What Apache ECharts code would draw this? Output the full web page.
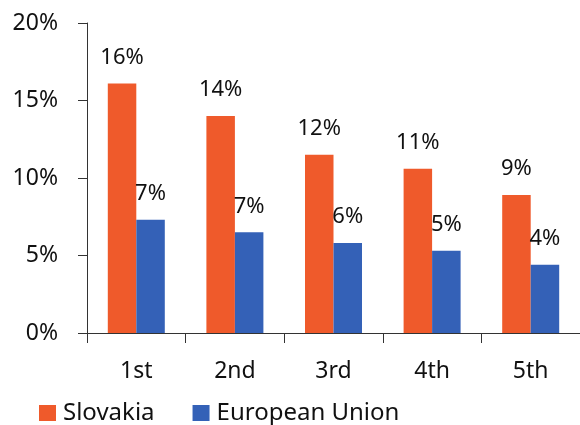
<!DOCTYPE html>
<html><head><meta charset="utf-8">
<script src="https://cdn.jsdelivr.net/npm/echarts@6/dist/echarts.min.js"></script>
<style>html,body{margin:0;padding:0;background:#fff}#c{width:580px;height:425px}</style>
</head><body><div id="c"></div>
<script>
const categories = ['1st', '2nd', '3rd', '4th', '5th'];
const slovakia = [16.1, 14.0, 11.5, 10.6, 8.9];
const eu = [7.3, 6.5, 5.8, 5.3, 4.4];
const yTicks = [0, 5, 10, 15, 20];

const FONT = 'Noto Sans';
const chart = echarts.init(document.getElementById('c'), null, {renderer: 'canvas'});
const lbl = {show: true, position: 'top', distance: 15, color: '#111', fontFamily: FONT, fontSize: 22,
  formatter: p => Math.round(p.value) + '%'};
chart.setOption({
  animation: false,
  textStyle: {fontFamily: FONT},
  grid: {left: 87, top: 23, right: -3, bottom: 92, containLabel: false},
  legend: {
    top: 396, left: 34, itemWidth: 17, itemHeight: 16, itemGap: 38,
    icon: 'rect',
    textStyle: {fontFamily: FONT, fontSize: 24, color: '#111', padding: [0, 0, 0, 2]},
    data: ['Slovakia', 'European Union']
  },
  xAxis: {
    type: 'category', data: categories,
    axisLine: {lineStyle: {color: '#333', width: 1}},
    axisTick: {show: true, length: 10, lineStyle: {color: '#333'}},
    axisLabel: {fontFamily: FONT, fontSize: 23, color: '#111', margin: 27}
  },
  yAxis: {
    type: 'value', min: yTicks[0], max: yTicks[yTicks.length - 1], interval: 5,
    axisLine: {show: true, lineStyle: {color: '#333', width: 1}},
    axisTick: {show: true, length: 9, lineStyle: {color: '#333'}},
    splitLine: {show: false},
    axisLabel: {fontFamily: FONT, fontSize: 23, color: '#111', margin: 29, formatter: v => v + '%'}
  },
  series: [
    {name: 'Slovakia', type: 'bar', data: slovakia, barWidth: 28.5, barGap: '0%',
      itemStyle: {color: '#EF5A2B'}, label: lbl},
    {name: 'European Union', type: 'bar', data: eu, barWidth: 28.5, barGap: '0%',
      itemStyle: {color: '#3461B7'}, label: lbl}
  ]
});
</script></body></html>
